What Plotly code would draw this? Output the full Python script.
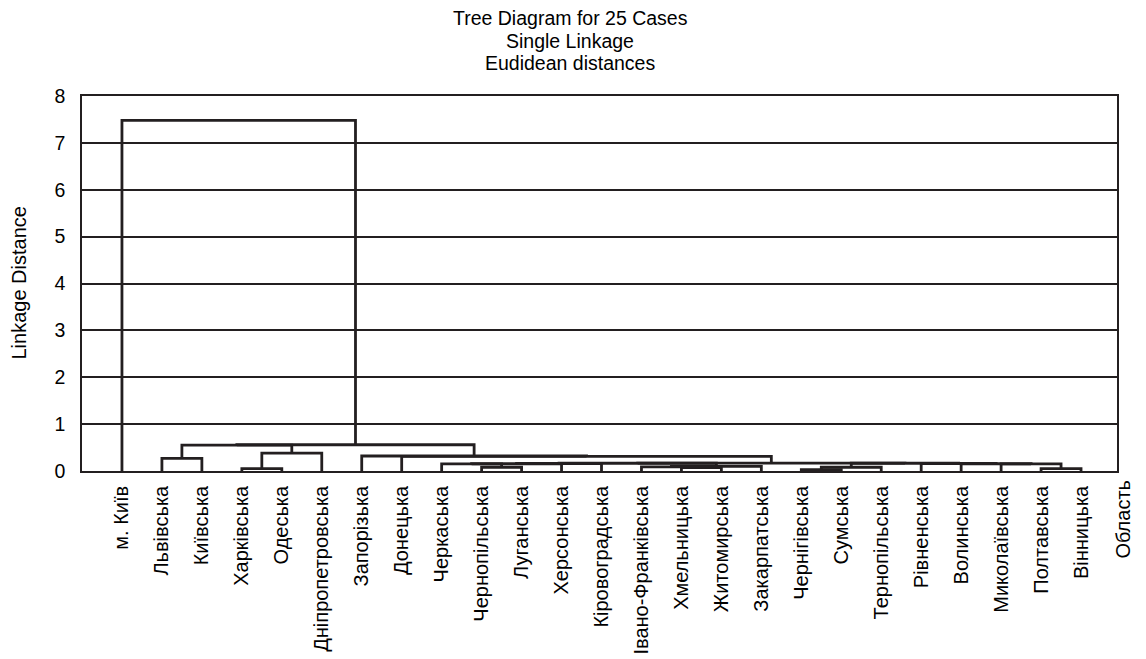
import plotly.graph_objects as go

# ---------------- data ----------------
leaf_labels = ["м. Київ", "Львівська", "Київська", "Харківська", "Одеська",
               "Дніпропетровська", "Запорізька", "Донецька", "Черкаська",
               "Чернопільська", "Луганська", "Херсонська", "Кіровоградська",
               "Івано-Франківська", "Хмельницька", "Житомирська", "Закарпатська",
               "Чернігівська", "Сумська", "Тернопільська", "Рівненська",
               "Волинська", "Миколаївська", "Полтавська", "Вінницька"]

# merge tree: child ids (0..24 leaves, 25.. earlier merges) and linkage distance
merge_a = [3, 1, 25, 9, 14, 17, 23, 13, 32, 8, 34, 35, 36, 22, 21, 20, 30, 41, 37, 7, 6, 26, 46, 0]
merge_b = [4, 2, 5, 10, 15, 18, 24, 29, 16, 28, 11, 12, 33, 31, 38, 39, 19, 40, 42, 43, 44, 27, 45, 47]
merge_h = [0.05, 0.27, 0.38, 0.08, 0.07, 0.03, 0.05, 0.09, 0.10, 0.15, 0.155, 0.16, 0.165,
           0.15, 0.155, 0.16, 0.08, 0.165, 0.17, 0.31, 0.32, 0.55, 0.56, 7.48]

y_ticks = [0, 1, 2, 3, 4, 5, 6, 7, 8]
title_lines = ["Tree Diagram for 25 Cases", "Single Linkage", "Eudidean distances"]
y_title = "Linkage Distance"
x_title = "Область"

n = len(leaf_labels)
pos = {i: float(i) for i in range(n)}
hgt = {i: 0.0 for i in range(n)}
xs, ys = [], []
for k, (a, b, h) in enumerate(zip(merge_a, merge_b, merge_h)):
    node = n + k
    xa, xb = pos[a], pos[b]
    xs += [xa, xa, xb, xb, None]
    ys += [hgt[a], h, h, hgt[b], None]
    pos[node] = (xa + xb) / 2
    hgt[node] = h

# page has an 8px body margin: figure pixel = page pixel - 8
OFF = 8
W, H = 1146 - OFF, 659 - OFF
L, R, T, B = 82 - OFF, 1117 - OFF, 96 - OFF, 471 - OFF
PW, PH = R - L, B - T


def px_x(page_x):
    return (page_x - OFF - L) / PW


def px_y(page_y):
    return (B - (page_y - OFF)) / PH


FONT = "Liberation Sans, Arial, sans-serif"
fig = go.Figure()
fig.add_trace(go.Scatter(x=xs, y=ys, mode="lines",
                         line=dict(color="#231f20", width=2.8),
                         hoverinfo="skip", showlegend=False))

fig.update_layout(
    width=W, height=H,
    margin=dict(l=L, r=W - R, t=T, b=H - B, autoexpand=False),
    paper_bgcolor="white", plot_bgcolor="white",
    font=dict(family=FONT, size=20, color="black"),
    showlegend=False,
)
fig.update_xaxes(
    range=[-1, 24.9], tickmode="array", tickvals=list(range(n)), ticktext=leaf_labels,
    tickangle=-90, ticks="outside", ticklen=5, tickcolor="rgba(0,0,0,0)",
    showgrid=False, zeroline=False, showline=True, mirror=True, automargin=False,
    linecolor="#231f20", linewidth=1.6, tickfont=dict(size=20),
)
fig.update_yaxes(
    range=[0, 8], tickmode="array", tickvals=y_ticks,
    ticks="outside", ticklen=11, tickcolor="rgba(0,0,0,0)",
    showgrid=True, gridcolor="#231f20", gridwidth=1.6, zeroline=False, automargin=False,
    showline=True, mirror=True, linecolor="#231f20", linewidth=1.6,
    tickfont=dict(size=19.5),
)

title_y_px = [18, 41, 63]
for txt, ypx in zip(title_lines, title_y_px):
    fig.add_annotation(text=txt, xref="paper", yref="paper",
                       x=px_x(570), y=px_y(ypx),
                       xanchor="center", yanchor="middle", showarrow=False,
                       font=dict(size=19.5))

fig.add_annotation(text=y_title, xref="paper", yref="paper",
                   x=px_x(18), y=0.5, textangle=-90,
                   xanchor="center", yanchor="middle", showarrow=False,
                   font=dict(size=20))
fig.add_annotation(text=x_title, xref="paper", yref="paper",
                   x=px_x(1122), y=px_y(478), textangle=-90,
                   xanchor="center", yanchor="top", showarrow=False,
                   font=dict(size=20))

fig.write_html("out.html")
